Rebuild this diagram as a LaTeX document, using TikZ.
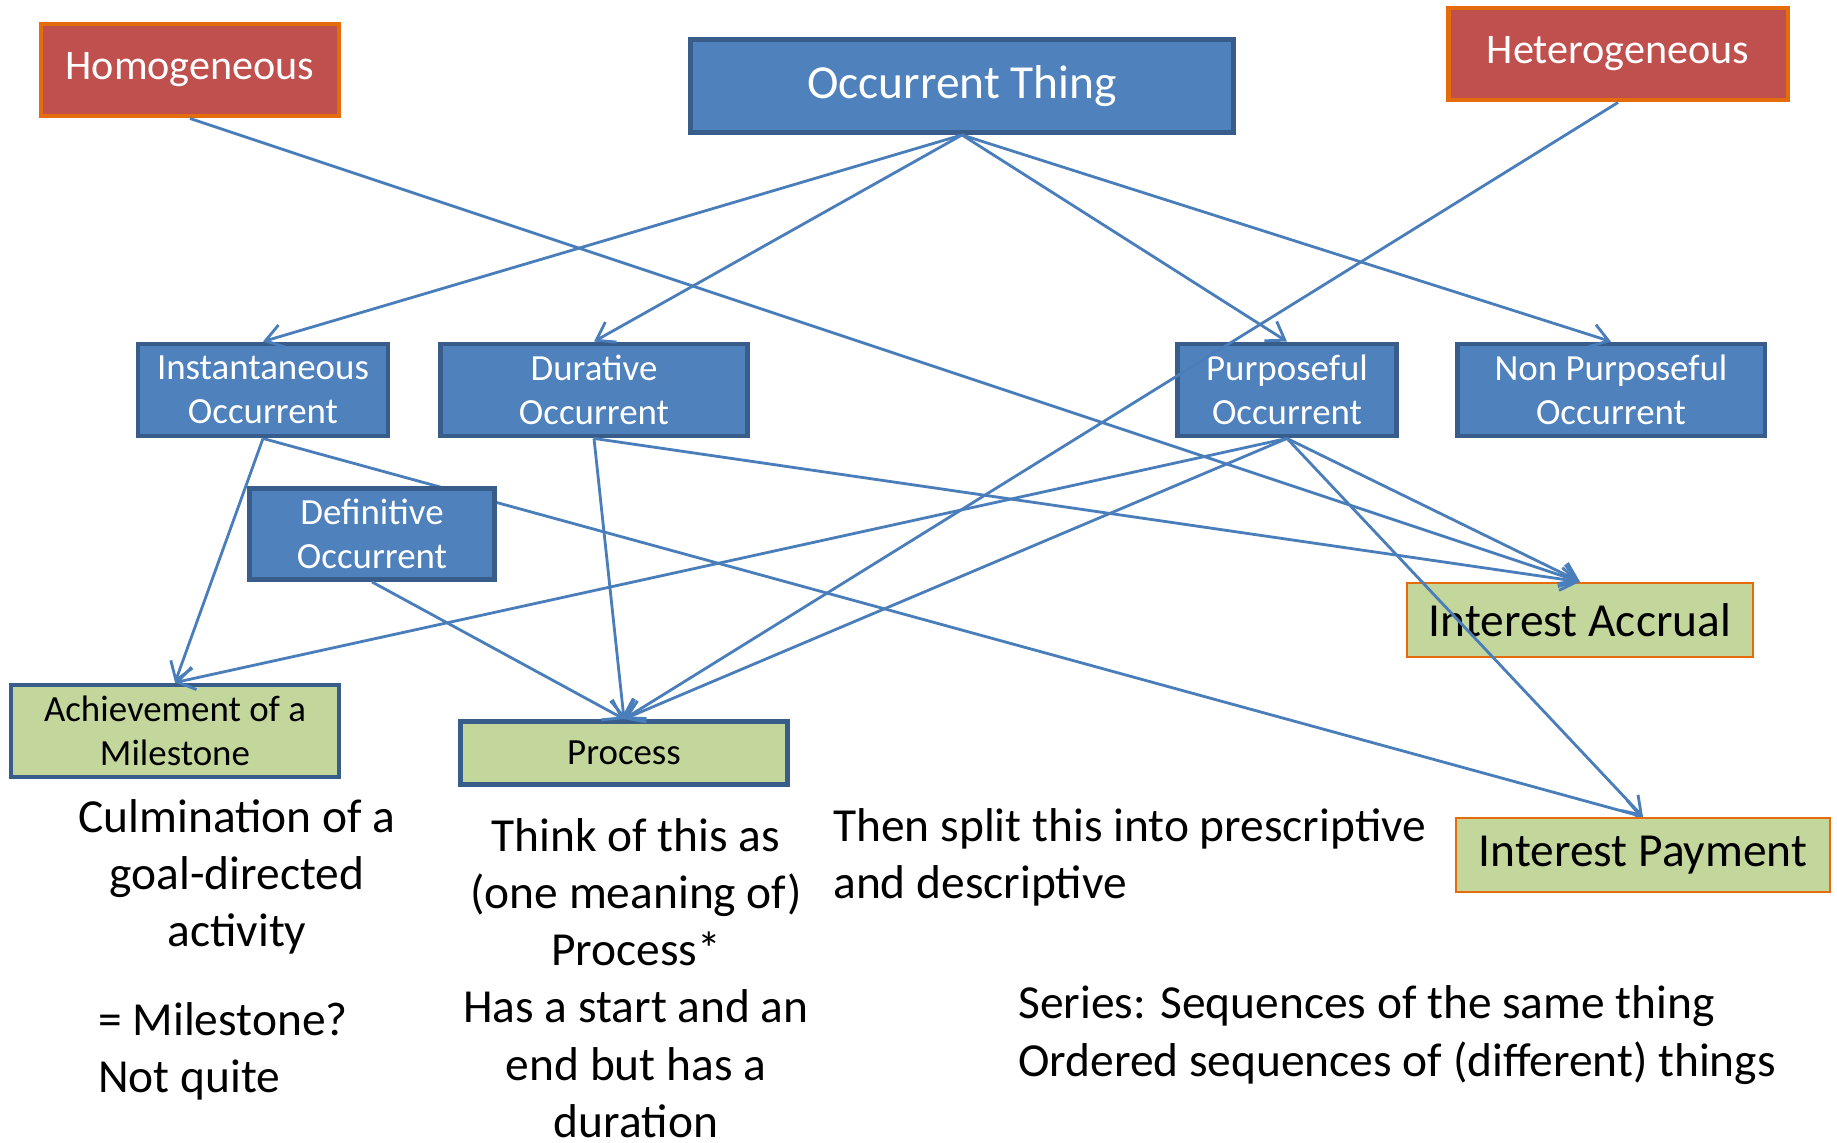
\documentclass[tikz,border=0pt]{standalone}
\usepackage{fontspec}
\setmainfont{Carlito}
\usepackage{xcolor}
\usepackage{tikz}
\usetikzlibrary{arrows.meta, backgrounds}

\definecolor{occblue}{RGB}{79,129,189}
\definecolor{occedge}{RGB}{56,93,138}
\definecolor{kindred}{RGB}{192,80,77}
\definecolor{kindedge}{RGB}{228,108,10}
\definecolor{leafgreen}{RGB}{195,214,155}
\definecolor{linkblue}{RGB}{74,126,187}

\begin{document}
\begin{tikzpicture}[
    x=0.02cm, y=-0.02cm,
    occ/.style={rectangle, draw=occedge, fill=occblue, line width=2.8pt, text=white, inner sep=0pt, minimum height=1.84cm, align=center, font=\fontsize{21}{25}\selectfont},
    kind/.style={rectangle, draw=kindedge, fill=kindred, line width=2.8pt, text=white, inner sep=0pt, minimum height=1.84cm, font=\fontsize{24}{29}\selectfont},
    leaf/.style={rectangle, draw=occedge, fill=leafgreen, line width=2.8pt, inner sep=0pt, align=center, font=\fontsize{21}{25}\selectfont},
    instance/.style={rectangle, draw=kindedge, fill=leafgreen, line width=1.1pt, inner sep=0pt, minimum height=1.49cm, font=\fontsize{27}{32}\selectfont},
    note/.style={inner sep=0pt, font=\fontsize{27}{32.6}\selectfont},
    arrow/.style={-{Straight Barb[length=3.4mm,width=4.6mm]}, line width=1.6pt, draw=linkblue}
]
\useasboundingbox (0,0) rectangle (1837,1143);

% Top: kinds and root
\node[kind, minimum width=5.96cm] (homog) at (190,70) {Homogeneous};
\node[occ, minimum width=10.88cm, minimum height=1.86cm, font=\fontsize{27}{32}\selectfont] (thing) at (962,86) {Occurrent Thing};
\node[kind, minimum width=6.8cm] (heterog) at (1618,54) {Heterogeneous};

% Middle: occurrent types
\node[occ, minimum width=5.0cm] (inst) at (263,390) {Instantaneous\\Occurrent};
\node[occ, minimum width=6.14cm] (durat) at (594,390) {Durative\\Occurrent};
\node[occ, minimum width=4.38cm] (purp) at (1287,390) {Purposeful\\Occurrent};
\node[occ, minimum width=6.16cm] (nonpurp) at (1611,390) {Non Purposeful\\Occurrent};
\node[occ, minimum width=4.9cm, minimum height=1.82cm] (defin) at (372,534) {Definitive\\Occurrent};

% Bottom: examples
\node[leaf, minimum width=6.56cm, minimum height=1.84cm] (achieve) at (175,731) {Achievement of a\\Milestone};
\node[leaf, minimum width=6.54cm, minimum height=1.26cm] (process) at (624,753) {Process};
\node[instance, minimum width=6.93cm] (accrual) at (1580,620) {Interest Accrual};
\node[instance, minimum width=7.47cm] (payment) at (1643,855) {Interest Payment};

% Notes
\node[note, align=center] (culmination) at (237,877) {Culmination of a\\goal-directed\\activity};
\node[note, align=left, anchor=west] (milestoneq) at (98,1051) {= Milestone?\\Not quite};
\node[note, align=center] (thinkof) at (636,978) {Think of this as\\(one meaning of)\\Process*\\Has a start and an\\end but has a\\duration};
\node[note, align=left, anchor=west] (splitnote) at (833,857) {Then split this into prescriptive\\and descriptive};
\node[note, align=left, anchor=west] (seriesnote) at (1018,1035) {Series: Sequences of the same thing\\Ordered sequences of (different) things};

% Connectors
\draw[arrow] (thing.south) -- (inst.north);
\draw[arrow] (thing.south) -- (durat.north);
\draw[arrow] (thing.south) -- (purp.north);
\draw[arrow] (thing.south) -- (nonpurp.north);

\draw[arrow] (homog.south) -- (accrual.north);
\draw[arrow] (heterog.south) -- (process.north);

\draw[arrow] (inst.south) -- (achieve.north);
\begin{scope}[on background layer]
\draw[arrow] (inst.south) -- (payment.north);
\end{scope}

\draw[arrow] (durat.south) -- (process.north);
\draw[arrow] (durat.south) -- (accrual.north);
\draw[arrow] (defin.south) -- (process.north);

\draw[arrow] (purp.south) -- (achieve.north);
\draw[arrow] (purp.south) -- (process.north);
\draw[arrow] (purp.south) -- (accrual.north);
\draw[arrow] (purp.south) -- (payment.north);

\end{tikzpicture}
\end{document}
